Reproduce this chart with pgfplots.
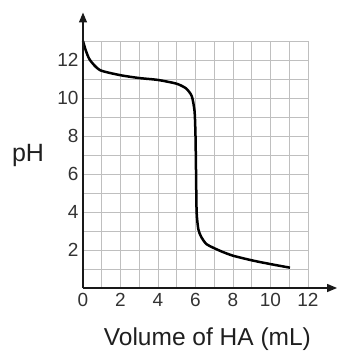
\documentclass[border=0pt]{standalone}
\usepackage{pgfplots}
\pgfplotsset{compat=1.18}
\usepackage{fontspec}
\setmainfont{Liberation Sans}
\usetikzlibrary{arrows.meta}
\begin{document}
\begin{tikzpicture}
\begin{axis}[
  scale only axis,
  width=225pt, height=247pt,
  xmin=0, xmax=12, ymin=0, ymax=13,
  clip=false,
  axis line style={draw=none},
  xtick={0,2,...,12}, minor xtick={1,3,...,11},
  ytick={2,4,...,12}, minor ytick={1,3,...,13},
  major tick length=0pt, minor tick length=0pt,
  grid=both,
  major grid style={draw=black!25, line width=0.9pt},
  minor grid style={draw=black!25, line width=0.9pt},
  tick label style={font=\fontsize{19}{19}\selectfont, text=black!80},
  /pgf/number format/assume math mode=true,
  xticklabel style={yshift=-2pt},
  yticklabel style={xshift=-1pt},
  xlabel={Volume of HA (mL)},
  xlabel style={at={(axis description cs:0.553,0)}, anchor=center, yshift=-51pt, font=\fontsize{24.5}{24.5}\selectfont, text=black!88},
  ylabel={pH},
  ylabel style={at={(axis description cs:0,0.535)}, rotate=-90, anchor=center, xshift=-55pt, font=\fontsize{25}{25}\selectfont, text=black!88},
]
\addplot[black, line width=2.5pt, smooth, tension=0.4] coordinates {
(0,13.0) (0.15,12.5) (0.37,12.0) (0.9,11.47) (2,11.2) (3,11.05) (4,10.95) (5,10.75) (5.5,10.5) (5.8,10.1) (5.95,9.3) (6.0,8.0) (6.03,6.0) (6.06,4.0) (6.15,3.1) (6.3,2.7) (6.6,2.3) (7.3,1.96) (8,1.7) (9.08,1.44) (10.15,1.23) (11.04,1.07)
};
\draw[black!90, line width=1.3pt, -{Triangle[length=10pt,width=8pt]}] (axis cs:0,0) -- (axis cs:13.55,0);
\draw[black!90, line width=1.3pt, -{Triangle[length=10pt,width=8pt]}] (axis cs:0,0) -- (axis cs:0,14.5);
\end{axis}
\path (-83pt,-68pt) rectangle (254pt,288pt);
\end{tikzpicture}
\end{document}
